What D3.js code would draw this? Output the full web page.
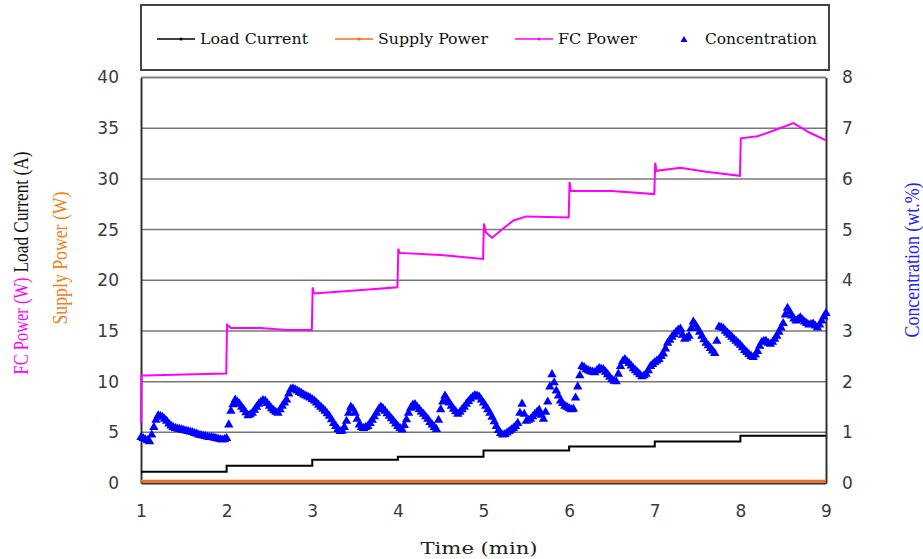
<!DOCTYPE html>
<html>
<head>
<meta charset="utf-8">
<script src="https://cdn.jsdelivr.net/npm/d3@7"></script>
<style>
  body { margin: 0; background: #fff; }
</style>
</head>
<body>
<svg id="chart" width="923" height="559"></svg>
<script>
// Load current (A), step changes every minute
const loadTime = [1, 2, 3, 4, 5, 6, 7, 8, 9];
const loadCurrent = [1.1, 1.7, 2.3, 2.6, 3.2, 3.6, 4.1, 4.65, 4.65];

// Supply power (W), stays close to zero
const supplyTime = [1, 2, 3, 4, 5, 6, 7, 8, 9];
const supplyPower = [0.2, 0.2, 0.2, 0.2, 0.2, 0.2, 0.2, 0.2, 0.2];

// FC power (W)
const fcTime = [1, 1.005, 1.05, 1.5, 1.995, 2.005, 2.05, 2.4, 2.7, 2.995,
  3.005, 3.02, 3.5, 3.995, 4.005, 4.02, 4.5, 4.995, 5.005, 5.03, 5.1, 5.23, 5.35, 5.5, 5.995,
  6.005, 6.02, 6.1, 6.5, 6.995, 7.005, 7.02, 7.3, 7.6, 7.995, 8.005, 8.2, 8.4, 8.62, 8.8, 9];
const fcPower = [5.9, 10.6, 10.6, 10.7, 10.8, 15.6, 15.3, 15.3, 15.1, 15.1,
  19.3, 18.7, 19.0, 19.3, 23.1, 22.7, 22.5, 22.1, 25.6, 24.7, 24.2, 25.1, 25.9, 26.3, 26.2,
  29.7, 28.8, 28.8, 28.8, 28.5, 31.6, 30.8, 31.1, 30.7, 30.3, 34.0, 34.2, 34.8, 35.5, 34.6, 33.8];

// Concentration (wt.%), read every 0.025 min from t = 1 (one row = half a minute)
const concStart = 1;
const concStep = 0.025;
const concentration = [
  0.90, 0.88, 0.86, 0.84, 0.82, 0.95, 1.10, 1.24, 1.33, 1.32, 1.30, 1.26, 1.22, 1.17, 1.13, 1.10, 1.08, 1.07, 1.06, 1.05,
  1.04, 1.03, 1.02, 1.01, 1.00, 0.98, 0.97, 0.95, 0.94, 0.93, 0.92, 0.91, 0.90, 0.90, 0.89, 0.88, 0.87, 0.86, 0.85, 0.86,
  0.88, 1.15, 1.42, 1.55, 1.64, 1.60, 1.56, 1.50, 1.45, 1.39, 1.33, 1.35, 1.38, 1.44, 1.50, 1.56, 1.60, 1.63, 1.62, 1.57,
  1.52, 1.47, 1.43, 1.40, 1.38, 1.45, 1.52, 1.58, 1.64, 1.76, 1.85, 1.86, 1.84, 1.82, 1.79, 1.77, 1.74, 1.72, 1.70, 1.68,
  1.65, 1.62, 1.58, 1.54, 1.50, 1.46, 1.42, 1.37, 1.32, 1.25, 1.18, 1.12, 1.06, 1.02, 1.03, 1.10, 1.22, 1.38, 1.50, 1.46,
  1.38, 1.26, 1.15, 1.10, 1.08, 1.10, 1.12, 1.18, 1.24, 1.31, 1.38, 1.45, 1.50, 1.47, 1.42, 1.37, 1.32, 1.27, 1.22, 1.17,
  1.12, 1.08, 1.05, 1.14, 1.25, 1.38, 1.48, 1.54, 1.55, 1.50, 1.45, 1.40, 1.36, 1.31, 1.26, 1.20, 1.15, 1.10, 1.06, 1.24,
  1.45, 1.60, 1.72, 1.65, 1.58, 1.52, 1.46, 1.41, 1.36, 1.40, 1.45, 1.50, 1.56, 1.61, 1.66, 1.70, 1.73, 1.72, 1.70, 1.64,
  1.58, 1.52, 1.45, 1.38, 1.30, 1.21, 1.12, 1.04, 0.98, 0.95, 0.96, 0.99, 1.02, 1.05, 1.08, 1.12, 1.18, 1.38, 1.56, 1.36,
  1.22, 1.24, 1.26, 1.31, 1.36, 1.40, 1.44, 1.34, 1.26, 1.40, 1.60, 1.90, 2.14, 1.98, 1.82, 1.72, 1.62, 1.57, 1.52, 1.50,
  1.47, 1.45, 1.46, 1.68, 1.90, 2.12, 2.30, 2.28, 2.24, 2.22, 2.20, 2.19, 2.18, 2.22, 2.26, 2.25, 2.24, 2.19, 2.14, 2.09,
  2.04, 2.01, 2.00, 2.15, 2.30, 2.40, 2.44, 2.40, 2.36, 2.31, 2.26, 2.22, 2.18, 2.14, 2.10, 2.12, 2.15, 2.22, 2.30, 2.34,
  2.38, 2.41, 2.44, 2.50, 2.55, 2.65, 2.76, 2.82, 2.88, 2.93, 2.98, 3.02, 3.04, 2.92, 2.84, 2.86, 2.90, 3.05, 3.18, 3.12,
  3.05, 2.98, 2.90, 2.83, 2.76, 2.71, 2.66, 2.61, 2.56, 2.80, 3.08, 3.07, 3.05, 3.00, 2.96, 2.92, 2.88, 2.84, 2.80, 2.76,
  2.72, 2.67, 2.62, 2.58, 2.54, 2.50, 2.48, 2.53, 2.60, 2.70, 2.78, 2.80, 2.80, 2.76, 2.74, 2.78, 2.84, 2.90, 2.98, 3.06,
  3.15, 3.32, 3.45, 3.38, 3.30, 3.24, 3.20, 3.23, 3.26, 3.22, 3.18, 3.15, 3.12, 3.13, 3.14, 3.10, 3.06, 3.12, 3.20, 3.28,
  3.35
];

const xTicks = [1, 2, 3, 4, 5, 6, 7, 8, 9];
const leftTicks = [0, 5, 10, 15, 20, 25, 30, 35, 40];
const rightTicks = [0, 1, 2, 3, 4, 5, 6, 7, 8];

const colors = {
  load: "#000000",
  supply: "#ff6a10",
  fc: "#ff00ff",
  conc: "#0000ff"
};

const svg = d3.select("#chart");

const plotLeft = 141, plotRight = 826, plotTop = 77.5, plotBottom = 483;

const x = d3.scaleLinear().domain([1, 9]).range([plotLeft, plotRight]);
const yL = d3.scaleLinear().domain([0, 40]).range([plotBottom, plotTop]);
const yR = d3.scaleLinear().domain([0, 8]).range([plotBottom, plotTop]);

// grid lines
svg.append("g")
  .selectAll("line")
  .data(leftTicks.filter(d => d > 0))
  .enter().append("line")
  .attr("x1", plotLeft).attr("x2", plotRight)
  .attr("y1", d => yL(d)).attr("y2", d => yL(d))
  .attr("stroke", "#777")
  .attr("stroke-width", 1.5);

// axes
const axisLeft = svg.append("g")
  .attr("transform", `translate(${plotLeft},0)`)
  .call(d3.axisLeft(yL).tickValues(leftTicks).tickSize(0).tickPadding(22));
const axisRight = svg.append("g")
  .attr("transform", `translate(${plotRight},0)`)
  .call(d3.axisRight(yR).tickValues(rightTicks).tickSize(0).tickPadding(16));
const axisBottom = svg.append("g")
  .attr("transform", `translate(0,${plotBottom})`)
  .call(d3.axisBottom(x).tickValues(xTicks).tickSize(0).tickPadding(22));

[axisLeft, axisRight, axisBottom].forEach(a => {
  a.select(".domain").attr("stroke", "#333").attr("stroke-width", 2);
  a.selectAll("text")
    .attr("font-family", "DejaVu Sans, sans-serif")
    .attr("font-size", 17)
    .attr("fill", "#3a3a3a");
});

// line series
const loadLine = d3.line()
  .x((d, i) => x(loadTime[i]))
  .y(d => yL(d))
  .curve(d3.curveStepAfter);

svg.append("path")
  .datum(loadCurrent)
  .attr("d", loadLine)
  .attr("fill", "none")
  .attr("stroke", colors.load)
  .attr("stroke-width", 2);

const supplyLine = d3.line()
  .x((d, i) => x(supplyTime[i]))
  .y(d => yL(d));

svg.append("path")
  .datum(supplyPower)
  .attr("d", supplyLine)
  .attr("fill", "none")
  .attr("stroke", colors.supply)
  .attr("stroke-width", 2.5);

const fcLine = d3.line()
  .x((d, i) => x(fcTime[i]))
  .y(d => yL(d));

svg.append("path")
  .datum(fcPower)
  .attr("d", fcLine)
  .attr("fill", "none")
  .attr("stroke", colors.fc)
  .attr("stroke-width", 2);

// concentration markers
const tri = d3.symbol().type(d3.symbolTriangle).size(38);
svg.append("g")
  .selectAll("path")
  .data(concentration)
  .enter().append("path")
  .attr("d", tri)
  .attr("transform", (d, i) => `translate(${x(concStart + i * concStep)},${yR(d)})`)
  .attr("fill", colors.conc);

// top border of the plot
svg.append("line")
  .attr("x1", plotLeft).attr("x2", plotRight).attr("y1", plotTop).attr("y2", plotTop)
  .attr("stroke", "#777").attr("stroke-width", 1.5);

// axis titles
svg.append("text")
  .attr("x", 479).attr("y", 554)
  .attr("text-anchor", "middle")
  .attr("font-family", "DejaVu Serif, serif")
  .attr("font-size", 17)
  .attr("textLength", 117)
  .attr("lengthAdjust", "spacingAndGlyphs")
  .attr("fill", "#222")
  .text("Time (min)");

function vTitle(str, cx, cy, len, color) {
  svg.append("text")
    .attr("transform", `translate(${cx},${cy}) rotate(-90)`)
    .attr("text-anchor", "middle")
    .attr("dominant-baseline", "central")
    .attr("font-family", "Liberation Serif, serif")
    .attr("font-size", 21)
    .attr("textLength", len)
    .attr("lengthAdjust", "spacingAndGlyphs")
    .attr("fill", color)
    .text(str);
}
vTitle("FC Power (W)", 21, 326, 97, colors.fc);
vTitle("Load Current (A)", 21, 212, 121, "#111");
vTitle("Supply Power (W)", 60, 258, 133, "#f08020");
vTitle("Concentration (wt.%)", 912, 260, 155, "#2020ff");

// legend
svg.append("rect")
  .attr("x", 141).attr("y", 5).attr("width", 688).attr("height", 65)
  .attr("fill", "none").attr("stroke", "#444").attr("stroke-width", 2);

const legendItems = [
  { name: "Load Current", color: colors.load, kind: "line", lx: 157, tx: 200, w: 108 },
  { name: "Supply Power", color: colors.supply, kind: "line", lx: 335, tx: 378, w: 110 },
  { name: "FC Power", color: colors.fc, kind: "line", lx: 515, tx: 558, w: 79 },
  { name: "Concentration", color: colors.conc, kind: "tri", lx: 675, tx: 705, w: 112 }
];

const lg = svg.append("g");
legendItems.forEach(d => {
  if (d.kind === "line") {
    lg.append("line")
      .attr("x1", d.lx).attr("x2", d.lx + 38)
      .attr("y1", 39).attr("y2", 39)
      .attr("stroke", d.color).attr("stroke-width", 1.5);
    lg.append("circle")
      .attr("cx", d.lx + 24).attr("cy", 39).attr("r", 1.5)
      .attr("fill", d.color);
  } else {
    lg.append("path")
      .attr("d", d3.symbol().type(d3.symbolTriangle).size(22))
      .attr("transform", `translate(${d.lx + 9},40)`)
      .attr("fill", d.color);
  }
  lg.append("text")
    .attr("x", d.tx).attr("y", 44)
    .attr("font-family", "DejaVu Serif, serif")
    .attr("font-size", 15)
    .attr("textLength", d.w)
    .attr("lengthAdjust", "spacingAndGlyphs")
    .attr("fill", "#111")
    .text(d.name);
});
</script>
</body>
</html>
